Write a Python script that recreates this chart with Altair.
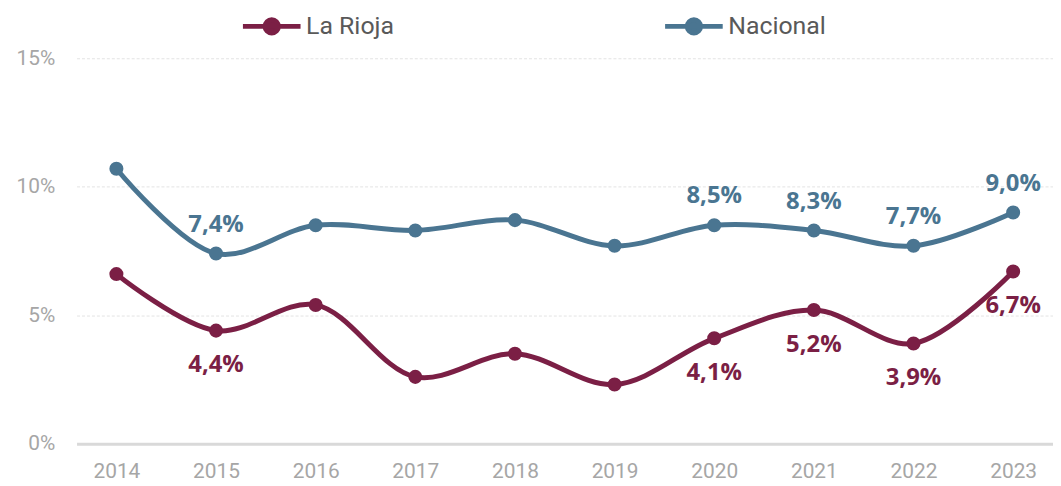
import altair as alt
import pandas as pd

years = [str(y) for y in range(2014, 2024)]
la_rioja = [6.6, 4.4, 5.4, 2.6, 3.5, 2.3, 4.1, 5.2, 3.9, 6.7]
nacional = [10.7, 7.4, 8.5, 8.3, 8.7, 7.7, 8.5, 8.3, 7.7, 9.0]
la_rioja_labeled = [False, True, False, False, False, False, True, True, True, True]
nacional_labeled = [False, True, False, False, False, False, True, True, True, True]
series = ["La Rioja", "Nacional"]
colors = ["#7B1F45", "#4A7591"]
y_ticks = [0, 5, 10, 15]

rows = []
for s, vals, labs in [(series[0], la_rioja, la_rioja_labeled), (series[1], nacional, nacional_labeled)]:
    for y, v, l in zip(years, vals, labs):
        rows.append({"year": y, "serie": s, "value": v, "labeled": l})
df = pd.DataFrame(rows)

x = alt.X("year:O", title=None,
          scale=alt.Scale(type="point", padding=0.4),
          axis=alt.Axis(labelAngle=0, domain=True, domainColor="#D9D9D9", domainWidth=3,
                        ticks=False, grid=False, labelFontSize=21, labelColor="#A6A6A6",
                        labelFont="Roboto", labelPadding=17))
y = alt.Y("value:Q", title=None,
          scale=alt.Scale(domain=[0, 15], nice=False),
          axis=alt.Axis(values=y_ticks, labelExpr="datum.value + '%'", domain=False, ticks=False,
                        grid=True, gridColor="#E3E3E3", gridDash=[3, 2], labelFontSize=21,
                        labelColor="#A6A6A6", labelFont="Roboto", labelPadding=22))
color_scale = alt.Scale(domain=series, range=colors)

legend = alt.Legend(
    orient="none", legendX=165, legendY=-64, direction="horizontal", title=None,
    padding=0,
    symbolType="M-1,0H1M-0.23,0A0.23,0.23 0 1,1 0.23,0A0.23,0.23 0 1,1 -0.23,0",
    symbolSize=3364, symbolStrokeWidth=5, symbolOpacity=1, labelFontSize=25,
    labelColor="#595959", labelFont="Roboto", columnPadding=262, labelOffset=3)

base = alt.Chart(df).encode(x=x, y=y)

lines = base.mark_line(interpolate="catmull-rom", strokeWidth=5).encode(
    color=alt.Color("serie:N", scale=color_scale, legend=legend))

points = base.mark_circle(size=200, opacity=1, strokeWidth=0).encode(
    color=alt.Color("serie:N", scale=color_scale, legend=legend),
    stroke=alt.Stroke("serie:N", scale=color_scale, legend=legend))

label_expr = "replace(format(datum.value, '.1f'), '.', ',') + '%'"

nac_labels = base.transform_filter(
    (alt.datum.serie == series[1]) & alt.datum.labeled
).transform_calculate(lab=label_expr).mark_text(
    fontSize=24, fontWeight="bold", font="Open Sans", dy=-29, color=colors[1]
).encode(text="lab:N")

rio_labels = base.transform_filter(
    (alt.datum.serie == series[0]) & alt.datum.labeled
).transform_calculate(lab=label_expr).mark_text(
    fontSize=24, fontWeight="bold", font="Open Sans", dy=35, color=colors[0]
).encode(text="lab:N")

chart = alt.layer(lines, points, nac_labels, rio_labels).properties(
    width=983, height=388,
    autosize=alt.AutoSizeParams(type="none"),
    padding={"left": 69, "top": 49, "right": 0, "bottom": 40}
).configure_view(stroke=None)

chart.save("out.html", embed_options={"renderer": "svg", "actions": False})
